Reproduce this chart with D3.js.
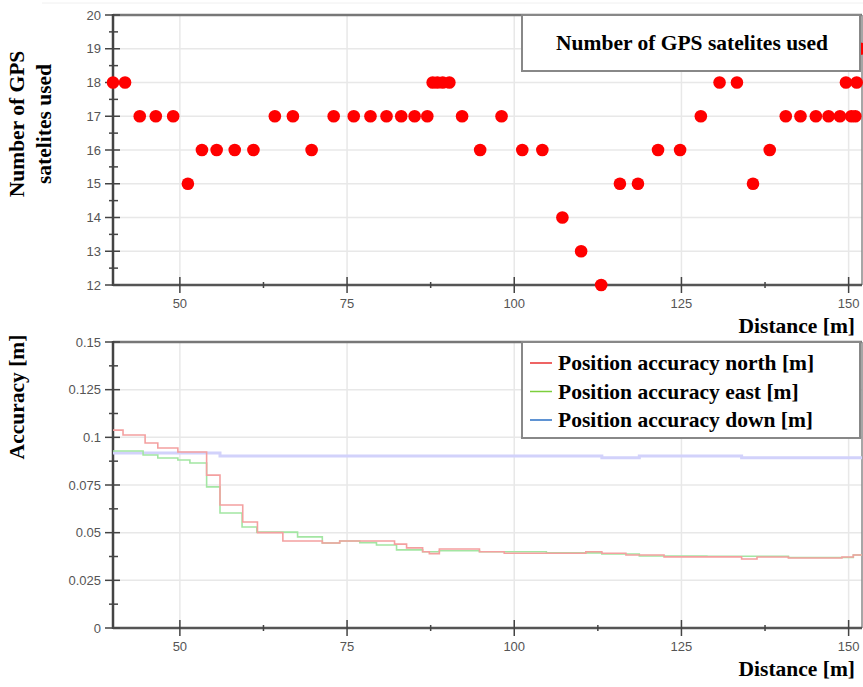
<!DOCTYPE html>
<html>
<head>
<meta charset="utf-8">
<script src="https://d3js.org/d3.v7.min.js"></script>
<style>
body { margin: 0; background: #fff; }
svg { display: block; }
.tick-label { font-family: "Liberation Sans", Arial, sans-serif; font-size: 13px; fill: #555; }
.title { font-family: "Liberation Serif", "Times New Roman", serif; font-weight: bold; font-size: 21.5px; fill: #000; }
</style>
</head>
<body>
<svg id="chart" width="863" height="687"></svg>
<script>
// satellites used vs distance
var satDist = [40.0, 41.8, 44.0, 46.4, 49.0, 51.2, 53.3, 55.5, 58.2, 61.0, 64.2, 66.9, 69.7, 73.0,
    76.0, 78.5, 80.9, 83.1, 85.1, 87.0, 87.8, 88.5, 89.3, 90.3, 92.2, 94.9, 98.1, 101.2, 104.2,
    107.2, 110.0, 113.0, 115.8, 118.5, 121.5, 124.8, 127.9, 130.7, 133.3, 135.7, 138.2, 140.6,
    142.8, 145.1, 147.0, 148.7, 149.6, 150.4, 151.0, 151.2, 151.8];
var satCount = [18, 18, 17, 17, 17, 15, 16, 16, 16, 16, 17, 17, 16, 17,
    17, 17, 17, 17, 17, 17, 18, 18, 18, 18, 17, 16, 17, 16, 16,
    14, 13, 12, 15, 15, 16, 16, 17, 18, 18, 15, 16, 17,
    17, 17, 17, 17, 18, 17, 17, 18, 19];

// accuracy step series
var northDist = [40.0, 41.5, 44.8, 46.7, 49.7, 54.0, 56.0, 59.4, 61.6, 65.4, 71.3, 73.9, 82.1, 83.9,
    86.3, 87.3, 88.8, 94.8, 98.5, 104.8, 110.7, 113.1, 116.7, 122.4, 134.0, 136.3, 141.0, 149.0, 150.7, 152];
var northAcc = [0.1038, 0.1012, 0.0970, 0.0944, 0.0923, 0.0802, 0.0645, 0.0556, 0.0500, 0.0456, 0.0446, 0.0456, 0.0440, 0.0420,
    0.0400, 0.0390, 0.0414, 0.0400, 0.0392, 0.0392, 0.0400, 0.0392, 0.0383, 0.0373, 0.0362, 0.0372, 0.0367, 0.0372, 0.0383, 0.0383];
var eastDist = [40.0, 44.5, 46.7, 49.7, 51.5, 54.0, 56.0, 59.3, 61.5, 67.6, 71.3, 73.9, 76.9, 79.4,
    82.4, 86.3, 88.8, 94.8, 104.8, 113.1, 118.7, 128.8, 141.0, 150.7, 152];
var eastAcc = [0.0928, 0.0907, 0.0892, 0.0881, 0.0865, 0.0740, 0.0603, 0.0530, 0.0503, 0.0478, 0.0446, 0.0456, 0.0448, 0.0435,
    0.0410, 0.0400, 0.0405, 0.0400, 0.0394, 0.0388, 0.0378, 0.0376, 0.0370, 0.0383, 0.0383];
var downDist = [40.0, 56.0, 113.1, 118.7, 134.0, 152];
var downAcc = [0.0918, 0.0902, 0.0893, 0.0902, 0.0893, 0.0893];

var xTicks = [50, 75, 100, 125, 150];
var xMinor = [62.5, 87.5, 112.5, 137.5];
var satTicks = [12, 13, 14, 15, 16, 17, 18, 19, 20];
var accTicks = [0, 0.025, 0.05, 0.075, 0.1, 0.125, 0.15];
var accLabels = ["0", "0.025", "0.05", "0.075", "0.1", "0.125", "0.15"];
var series = [
    {label: "Position accuracy north [m]", line: "#f4a0a0", key: "#e83030", x: northDist, y: northAcc, w: 1.6},
    {label: "Position accuracy east [m]", line: "#a3e6a3", key: "#7ccf3c", x: eastDist, y: eastAcc, w: 1.6},
    {label: "Position accuracy down [m]", line: "#d2d2fb", key: "#2a6fc4", x: downDist, y: downAcc, w: 3}
];

var svg = d3.select("#chart");
var left = 113, right = 862;
var x = d3.scaleLinear().domain([40, 152]).range([left, right]);
var ySat = d3.scaleLinear().domain([12, 20]).range([285, 15]);
var yAcc = d3.scaleLinear().domain([0, 0.15]).range([628, 342]);

// faint frame line at very top
svg.append("line").attr("x1", 42).attr("x2", 863).attr("y1", 3).attr("y2", 3)
    .attr("stroke", "#f0f0f0").attr("stroke-width", 1);

function panel(y, yTicks, yLabels) {
    var g = svg.append("g");
    var y0 = y.range()[0], y1 = y.range()[1];
    var step = yTicks[1] - yTicks[0];

    // grid
    g.selectAll(".gx").data(xTicks).enter().append("line")
        .attr("x1", x).attr("x2", x).attr("y1", y0).attr("y2", y1)
        .attr("stroke", "#e8e8e8").attr("stroke-width", 1.5);
    g.selectAll(".gy").data(yTicks.slice(1, -1)).enter().append("line")
        .attr("x1", left).attr("x2", right).attr("y1", y).attr("y2", y)
        .attr("stroke", "#e8e8e8").attr("stroke-width", 1.5);

    // frame
    g.append("line").attr("x1", left).attr("x2", right).attr("y1", y1).attr("y2", y1)
        .attr("stroke", "#777").attr("stroke-width", 2.5);
    g.append("line").attr("x1", right).attr("x2", right).attr("y1", y1).attr("y2", y0)
        .attr("stroke", "#888").attr("stroke-width", 1.5);
    g.append("line").attr("x1", left).attr("x2", left).attr("y1", y1 - 1).attr("y2", y0 + 1)
        .attr("stroke", "#444").attr("stroke-width", 2.5);
    g.append("line").attr("x1", left).attr("x2", right).attr("y1", y0).attr("y2", y0)
        .attr("stroke", "#555").attr("stroke-width", 2.5);

    // y ticks
    g.selectAll(".ty").data(yTicks).enter().append("line")
        .attr("x1", left - 8).attr("x2", left + 7).attr("y1", y).attr("y2", y)
        .attr("stroke", "#444").attr("stroke-width", 1.5);
    var minorY = yTicks.slice(0, -1).map(function(v) { return v + step / 2; });
    g.selectAll(".my").data(minorY).enter().append("line")
        .attr("x1", left - 4).attr("x2", left + 5).attr("y1", y).attr("y2", y)
        .attr("stroke", "#444").attr("stroke-width", 1.5);
    g.selectAll(".ly").data(yTicks).enter().append("text")
        .attr("class", "tick-label")
        .attr("x", left - 12).attr("y", function(d) { return y(d) + 4.5; })
        .attr("text-anchor", "end")
        .text(function(d, i) { return yLabels[i]; });

    // x ticks
    g.selectAll(".tx").data(xTicks).enter().append("line")
        .attr("x1", x).attr("x2", x).attr("y1", y0 - 8).attr("y2", y0 + 8)
        .attr("stroke", "#444").attr("stroke-width", 1.5);
    g.selectAll(".mx").data(xMinor).enter().append("line")
        .attr("x1", x).attr("x2", x).attr("y1", y0 - 3).attr("y2", y0 + 3)
        .attr("stroke", "#444").attr("stroke-width", 1.5);
    g.selectAll(".lx").data(xTicks).enter().append("text")
        .attr("class", "tick-label")
        .attr("x", x).attr("y", y0 + 23)
        .attr("text-anchor", "middle")
        .text(function(d) { return d; });

    g.append("text").attr("class", "title")
        .attr("x", 855).attr("y", y0 + 48)
        .attr("text-anchor", "end")
        .text("Distance [m]");
    return g;
}

// top panel
panel(ySat, satTicks, satTicks.map(String));

svg.append("g").selectAll("circle")
    .data(d3.zip(satDist, satCount))
    .enter().append("circle")
    .attr("cx", function(d) { return x(d[0]); })
    .attr("cy", function(d) { return ySat(d[1]); })
    .attr("r", 6.3)
    .attr("fill", "#ff0000");

svg.append("rect").attr("x", 522).attr("y", 15).attr("width", 338).attr("height", 56)
    .attr("fill", "#fff").attr("stroke", "#888").attr("stroke-width", 2);
svg.append("text").attr("class", "title")
    .attr("x", 692).attr("y", 50).attr("text-anchor", "middle")
    .text("Number of GPS satelites used");

var yt = svg.append("text").attr("class", "title")
    .attr("transform", "translate(0,124) rotate(-90)")
    .attr("text-anchor", "middle");
yt.append("tspan").attr("x", 0).attr("y", 24).text("Number of GPS");
yt.append("tspan").attr("x", 0).attr("y", 51).text("satelites used");

// bottom panel
panel(yAcc, accTicks, accLabels);

var line = d3.line()
    .x(function(d) { return x(d[0]); })
    .y(function(d) { return yAcc(d[1]); })
    .curve(d3.curveStepAfter);

svg.append("g").selectAll("path")
    .data(series.slice().reverse())
    .enter().append("path")
    .attr("d", function(s) { return line(d3.zip(s.x, s.y)); })
    .attr("fill", "none")
    .attr("stroke", function(s) { return s.line; })
    .attr("stroke-width", function(s) { return s.w; });

svg.append("rect").attr("x", 522).attr("y", 342).attr("width", 338).attr("height", 96)
    .attr("fill", "#fff").attr("stroke", "#888").attr("stroke-width", 2);
var leg = svg.append("g").selectAll("g").data(series).enter().append("g")
    .attr("transform", function(d, i) { return "translate(530," + (363 + i * 28.5) + ")"; });
leg.append("line").attr("x1", 0).attr("x2", 22)
    .attr("stroke", function(d) { return d.key; }).attr("stroke-width", 1.5);
leg.append("text").attr("class", "title")
    .attr("x", 28).attr("y", 7)
    .text(function(d) { return d.label; });

svg.append("text").attr("class", "title")
    .attr("transform", "translate(24,397) rotate(-90)")
    .attr("text-anchor", "middle")
    .text("Accuracy [m]");
</script>
</body>
</html>
